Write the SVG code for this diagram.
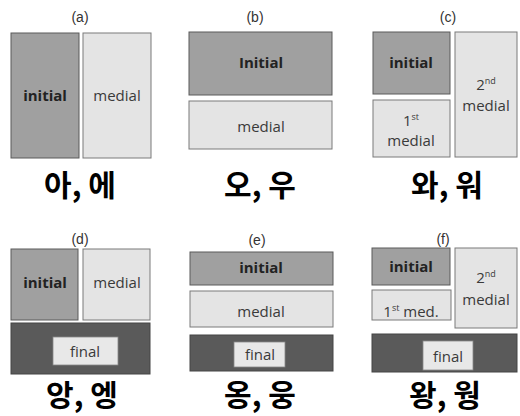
<svg xmlns="http://www.w3.org/2000/svg" width="520" height="416" viewBox="0 0 520 416">
<style>
.bg{fill:#ffffff}
.ini{fill:#a0a0a0;stroke:#5a5a5a;stroke-width:1}
.med{fill:#e4e4e4;stroke:#7a7a7a;stroke-width:1}
.fin{fill:#5a5a5a;stroke:#444;stroke-width:1}
.fin-in{fill:#e8e8e8;stroke:#888;stroke-width:0.8}
.cap{font-family:"Liberation Sans",Arial,sans-serif;font-size:14px;fill:#333;text-anchor:middle}
.ti{font-family:"Open Sans","Noto Sans",sans-serif;font-size:15px;font-weight:bold;fill:#222;text-anchor:middle}
.tm{font-family:"Open Sans","Noto Sans",sans-serif;font-size:15px;fill:#3a3a3a;text-anchor:middle}
.sup{font-size:9px}
.kr{font-family:"Noto Sans CJK KR","Noto Sans",sans-serif;font-size:30px;font-weight:bold;fill:#000;text-anchor:middle}
</style>
<rect class="bg" x="0" y="0" width="520" height="416"/>

<g id="panel-a">
  <text class="cap" x="80" y="22">(a)</text>
  <g id="a-initial"><rect class="ini" x="11" y="33" width="68" height="125"/><text class="ti" x="45" y="101">initial</text></g>
  <g id="a-medial"><rect class="med" x="83" y="33" width="68" height="125"/><text class="tm" x="117" y="101">medial</text></g>
  <text class="kr" x="80" y="196">아, 에</text>
</g>

<g id="panel-b">
  <text class="cap" x="255" y="22">(b)</text>
  <g id="b-initial"><rect class="ini" x="189" y="32" width="143" height="63"/><text class="ti" x="261" y="68">Initial</text></g>
  <g id="b-medial"><rect class="med" x="189" y="101" width="143" height="48"/><text class="tm" x="261" y="132">medial</text></g>
  <text class="kr" x="260" y="196">오, 우</text>
</g>

<g id="panel-c">
  <text class="cap" x="448" y="22">(c)</text>
  <g id="c-initial"><rect class="ini" x="373" y="32" width="77" height="62"/><text class="ti" x="411" y="68">initial</text></g>
  <g id="c-medial1"><rect class="med" x="373" y="100" width="77" height="57"/>
    <text class="tm" x="411" y="126">1<tspan class="sup" dy="-6">st</tspan></text>
    <text class="tm" x="411" y="146">medial</text></g>
  <g id="c-medial2"><rect class="med" x="455" y="32" width="62" height="125"/>
    <text class="tm" x="486" y="90">2<tspan class="sup" dy="-6">nd</tspan></text>
    <text class="tm" x="486" y="111">medial</text></g>
  <text class="kr" x="447" y="196">와, 워</text>
</g>

<g id="panel-d">
  <text class="cap" x="80" y="244">(d)</text>
  <g id="d-initial"><rect class="ini" x="11" y="249" width="67" height="71"/><text class="ti" x="45" y="288">initial</text></g>
  <g id="d-medial"><rect class="med" x="83" y="249" width="67" height="71"/><text class="tm" x="117" y="288">medial</text></g>
  <g id="d-final"><rect class="fin" x="11" y="323" width="139" height="51"/><rect class="fin-in" x="53" y="337" width="65" height="28"/><text class="tm" x="85" y="357">final</text></g>
  <text class="kr" x="82" y="406">앙, 엥</text>
</g>

<g id="panel-e">
  <text class="cap" x="257" y="245">(e)</text>
  <g id="e-initial"><rect class="ini" x="190" y="252" width="143" height="33"/><text class="ti" x="261" y="273">initial</text></g>
  <g id="e-medial"><rect class="med" x="190" y="291" width="143" height="36"/><text class="tm" x="261" y="317">medial</text></g>
  <g id="e-final"><rect class="fin" x="190" y="335" width="143" height="36"/><rect class="fin-in" x="234" y="342" width="51" height="25"/><text class="tm" x="260" y="360">final</text></g>
  <text class="kr" x="260" y="406">옹, 웅</text>
</g>

<g id="panel-f">
  <text class="cap" x="443" y="244">(f)</text>
  <g id="f-initial"><rect class="ini" x="372" y="248" width="78" height="37"/><text class="ti" x="411" y="272">initial</text></g>
  <g id="f-medial1"><rect class="med" x="372" y="290" width="79" height="30"/><text class="tm" x="411" y="317">1<tspan class="sup" dy="-6">st</tspan><tspan dy="6"> med.</tspan></text></g>
  <g id="f-medial2"><rect class="med" x="455" y="248" width="62" height="80"/>
    <text class="tm" x="486" y="283">2<tspan class="sup" dy="-6">nd</tspan></text>
    <text class="tm" x="486" y="305">medial</text></g>
  <g id="f-final"><rect class="fin" x="372" y="334" width="145" height="38"/><rect class="fin-in" x="423" y="341" width="50" height="29"/><text class="tm" x="448" y="362">final</text></g>
  <text class="kr" x="445" y="406">왕, 웡</text>
</g>
</svg>
